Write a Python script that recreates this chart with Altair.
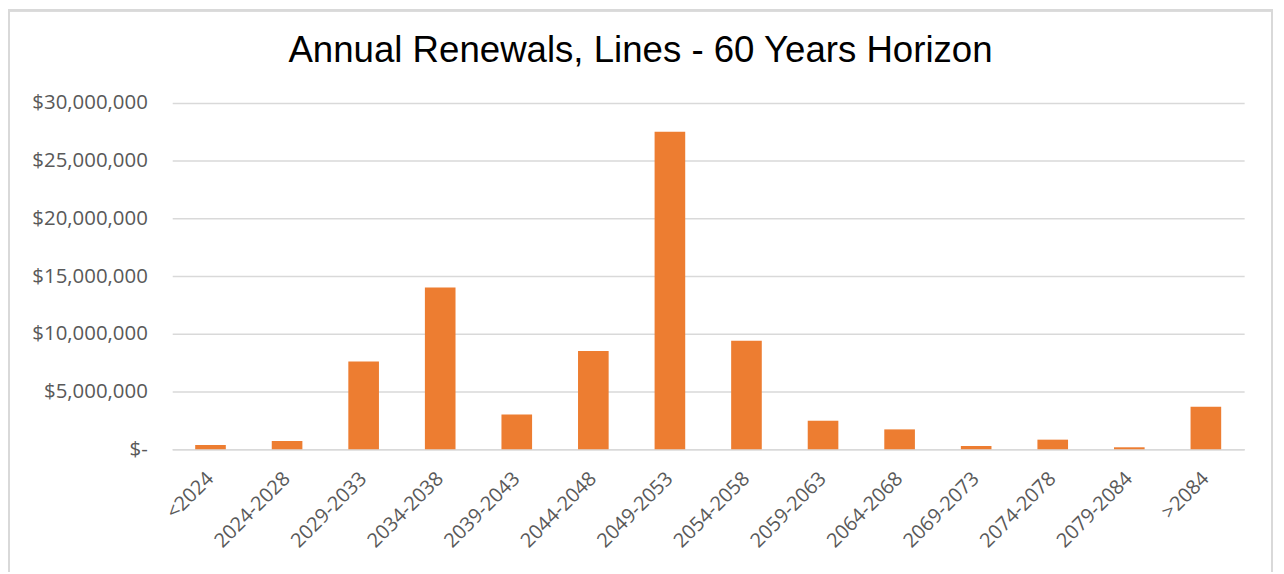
import altair as alt
import pandas as pd

categories = ["<2024", "2024-2028", "2029-2033", "2034-2038", "2039-2043", "2044-2048",
              "2049-2053", "2054-2058", "2059-2063", "2064-2068", "2069-2073", "2074-2078",
              "2079-2084", ">2084"]
values = [370000, 720000, 7600000, 14000000, 3000000, 8500000,
          27500000, 9400000, 2470000, 1720000, 280000, 830000,
          170000, 3680000]
y_ticks = [0, 5000000, 10000000, 15000000, 20000000, 25000000, 30000000]

df = pd.DataFrame({"period": categories, "value": values})

TITLE_FONT = "Liberation Sans"
FONT = "Open Sans"
GRID = "#d9d9d9"

bars = alt.Chart(df).mark_bar(color="#ED7D31").encode(
    x=alt.X("period:N", sort=categories, title=None,
            scale=alt.Scale(paddingInner=0.6, paddingOuter=0.3),
            axis=alt.Axis(labelAngle=-45, labelAlign="right", labelBaseline="middle",
                          labelPadding=26, ticks=False, domain=True, domainColor=GRID,
                          domainWidth=1.5, labelFont=FONT, labelFontSize=20,
                          labelColor="#595959", grid=False)),
    y=alt.Y("value:Q", title=None,
            scale=alt.Scale(domain=[0, 30000000], nice=False),
            axis=alt.Axis(values=y_ticks, ticks=False, domain=False, gridColor=GRID,
                          gridWidth=1.5, labelFont=FONT, labelFontSize=20.5,
                          labelColor="#595959", labelPadding=25,
                          labelExpr="datum.value == 0 ? '$-\u00a0\u00a0' : '$' + format(datum.value, ',')")),
)

frame = alt.Chart(df).mark_rect(fill=None, stroke=GRID, strokeWidth=2).encode(
    x=alt.value(-164), x2=alt.value(1105), y=alt.value(-93), y2=alt.value(480)
)

chart = alt.layer(bars, frame).properties(
    width=1077, height=348,
    padding={"left": 165, "top": 94, "right": 32, "bottom": 122},
    autosize=alt.AutoSizeParams(type="none"),
    title=alt.TitleParams("Annual Renewals, Lines - 60 Years Horizon", font=TITLE_FONT,
                          fontSize=36.8, fontWeight="normal", color="#000000",
                          anchor="middle", frame="group", dx=-68, offset=-61),
).configure_view(stroke=None)

chart.save("out.html", embed_options={"renderer": "svg", "actions": False})
